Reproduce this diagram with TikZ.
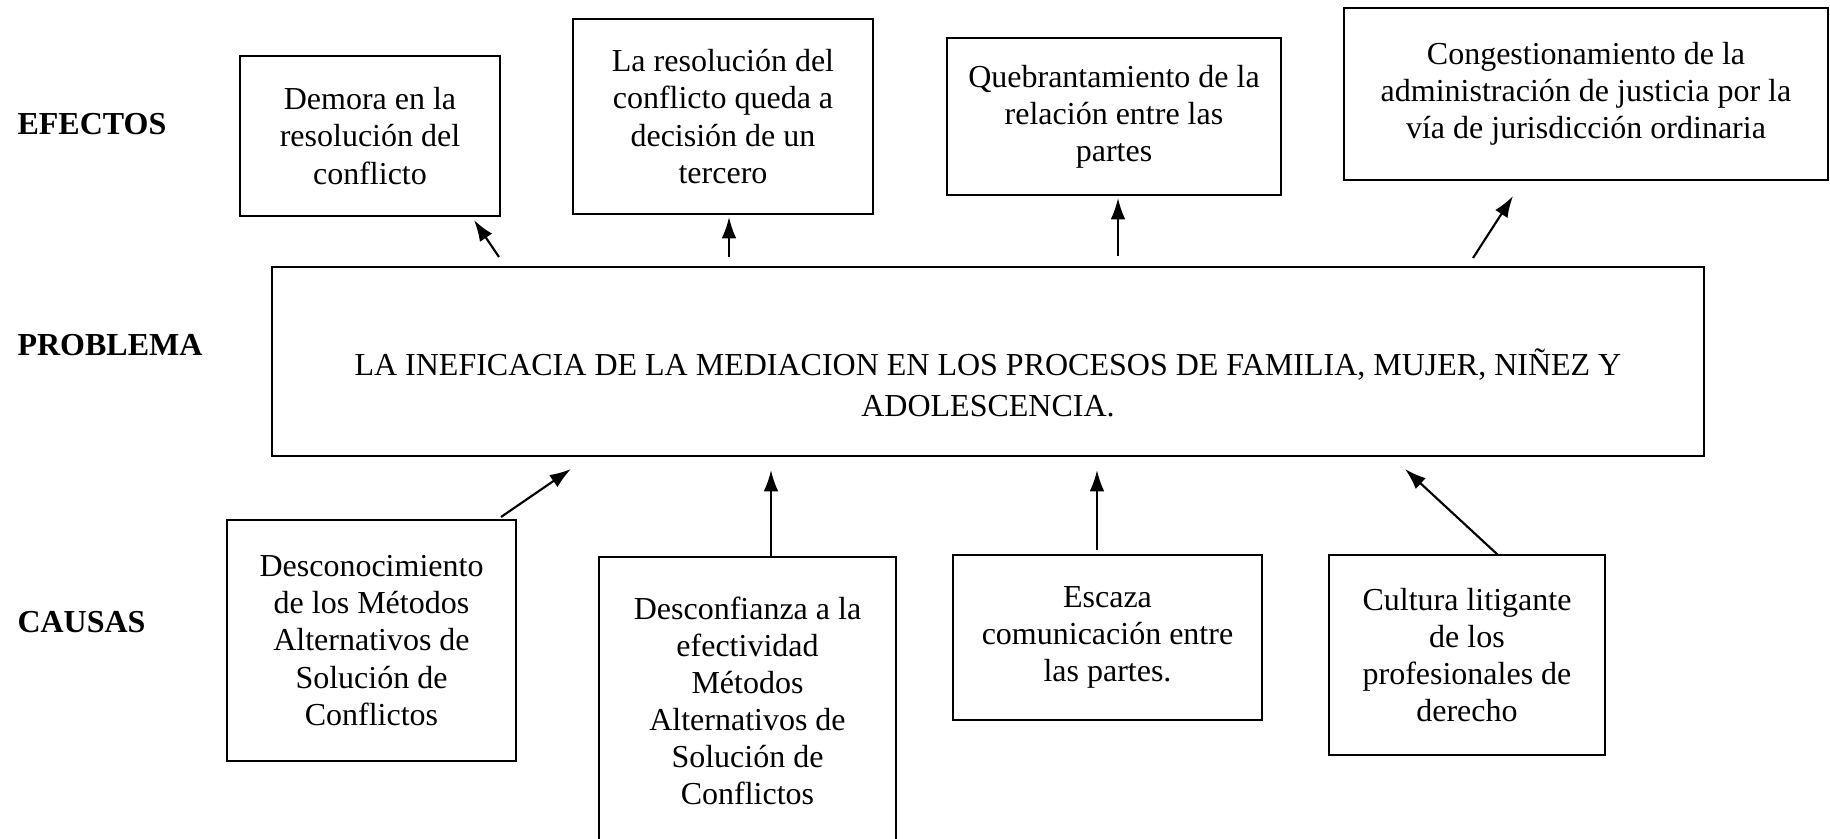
\documentclass[tikz,border=0pt]{standalone}
\usepackage{fontspec}
\setmainfont{Liberation Serif}
\usepackage{tikz}
\usetikzlibrary{arrows.meta}
\newcommand{\pxu}{0.375pt}

\begin{document}
\begin{tikzpicture}[x=0.375pt,y=-0.375pt,
  box/.style={draw,line width=0.6pt,inner sep=0pt,align=center,
    font=\fontsize{12}{13.9}\selectfont},
  lbl/.style={anchor=west,inner sep=0pt,font=\fontsize{12}{13.9}\selectfont\bfseries},
  arr/.style={line width=0.8pt,-{Latex[length=8pt,width=5.5pt]}}]
\useasboundingbox (0,0) rectangle (1830,839);
\begin{scope}
\clip (0,0) rectangle (1830,839);
\node[lbl](efe) at (17,124) {EFECTOS};
\node[lbl](pro) at (17,345) {PROBLEMA};
\node[lbl](cau) at (17,622) {CAUSAS};

\node[box,minimum width=260*\pxu,minimum height=160*\pxu](dem) at (370,136)
  {Demora en la\\resolución del\\conflicto};
\node[box,minimum width=300*\pxu,minimum height=195*\pxu](res) at (723,116.5)
  {La resolución del\\conflicto queda a\\decisión de un\\tercero};
\node[box,minimum width=334*\pxu,minimum height=157*\pxu](que) at (1114,116.5)
  {Quebrantamiento de la\\relación entre las\\partes};
\node[box,minimum width=484*\pxu,minimum height=172*\pxu](con) at (1586,94)
  {Congestionamiento de la\\administración de justicia por la\\vía de jurisdicción ordinaria};

\node[box,minimum width=1432*\pxu,minimum height=189*\pxu,
  font=\fontsize{12}{15.4}\selectfont](prob) at (988,361.5)
  {\strut\\LA INEFICACIA DE LA MEDIACION EN LOS PROCESOS DE FAMILIA, MUJER, NIÑEZ Y\\ADOLESCENCIA.};

\node[box,minimum width=289*\pxu,minimum height=241*\pxu](desc) at (371.5,640.5)
  {Desconocimiento\\de los Métodos\\Alternativos de\\Solución de\\Conflictos};
\node[box,minimum width=297*\pxu,minimum height=288*\pxu](conf) at (747.5,701)
  {Desconfianza a la\\efectividad\\Métodos\\Alternativos de\\Solución de\\Conflictos};
\node[box,minimum width=309*\pxu,minimum height=165*\pxu](esc) at (1107.5,637.5)
  {Escaza\\comunicación entre\\las partes.};
\node[box,minimum width=276*\pxu,minimum height=200*\pxu](cul) at (1467,655)
  {Cultura litigante\\de los\\profesionales de\\derecho};
\end{scope}

% flechas efectos
\coordinate (e1a) at (499,257); \coordinate (e1b) at (474,220);
\coordinate (e2a) at (729,257); \coordinate (e2b) at (729,217);
\coordinate (e3a) at (1118,256); \coordinate (e3b) at (1118,198);
\coordinate (e4a) at (1473,258); \coordinate (e4b) at (1513,196);
\draw[arr](e1a)--(e1b);
\draw[arr](e2a)--(e2b);
\draw[arr](e3a)--(e3b);
\draw[arr](e4a)--(e4b);

% flechas causas
\coordinate (c1a) at (501,517); \coordinate (c1b) at (571,469);
\coordinate (c2a) at (771,557); \coordinate (c2b) at (771,470);
\coordinate (c3a) at (1097,550); \coordinate (c3b) at (1097,470);
\coordinate (c4a) at (1498,555); \coordinate (c4b) at (1405,469);
\draw[arr](c1a)--(c1b);
\draw[arr](c2a)--(c2b);
\draw[arr](c3a)--(c3b);
\draw[arr](c4a)--(c4b);
\end{tikzpicture}
\end{document}
